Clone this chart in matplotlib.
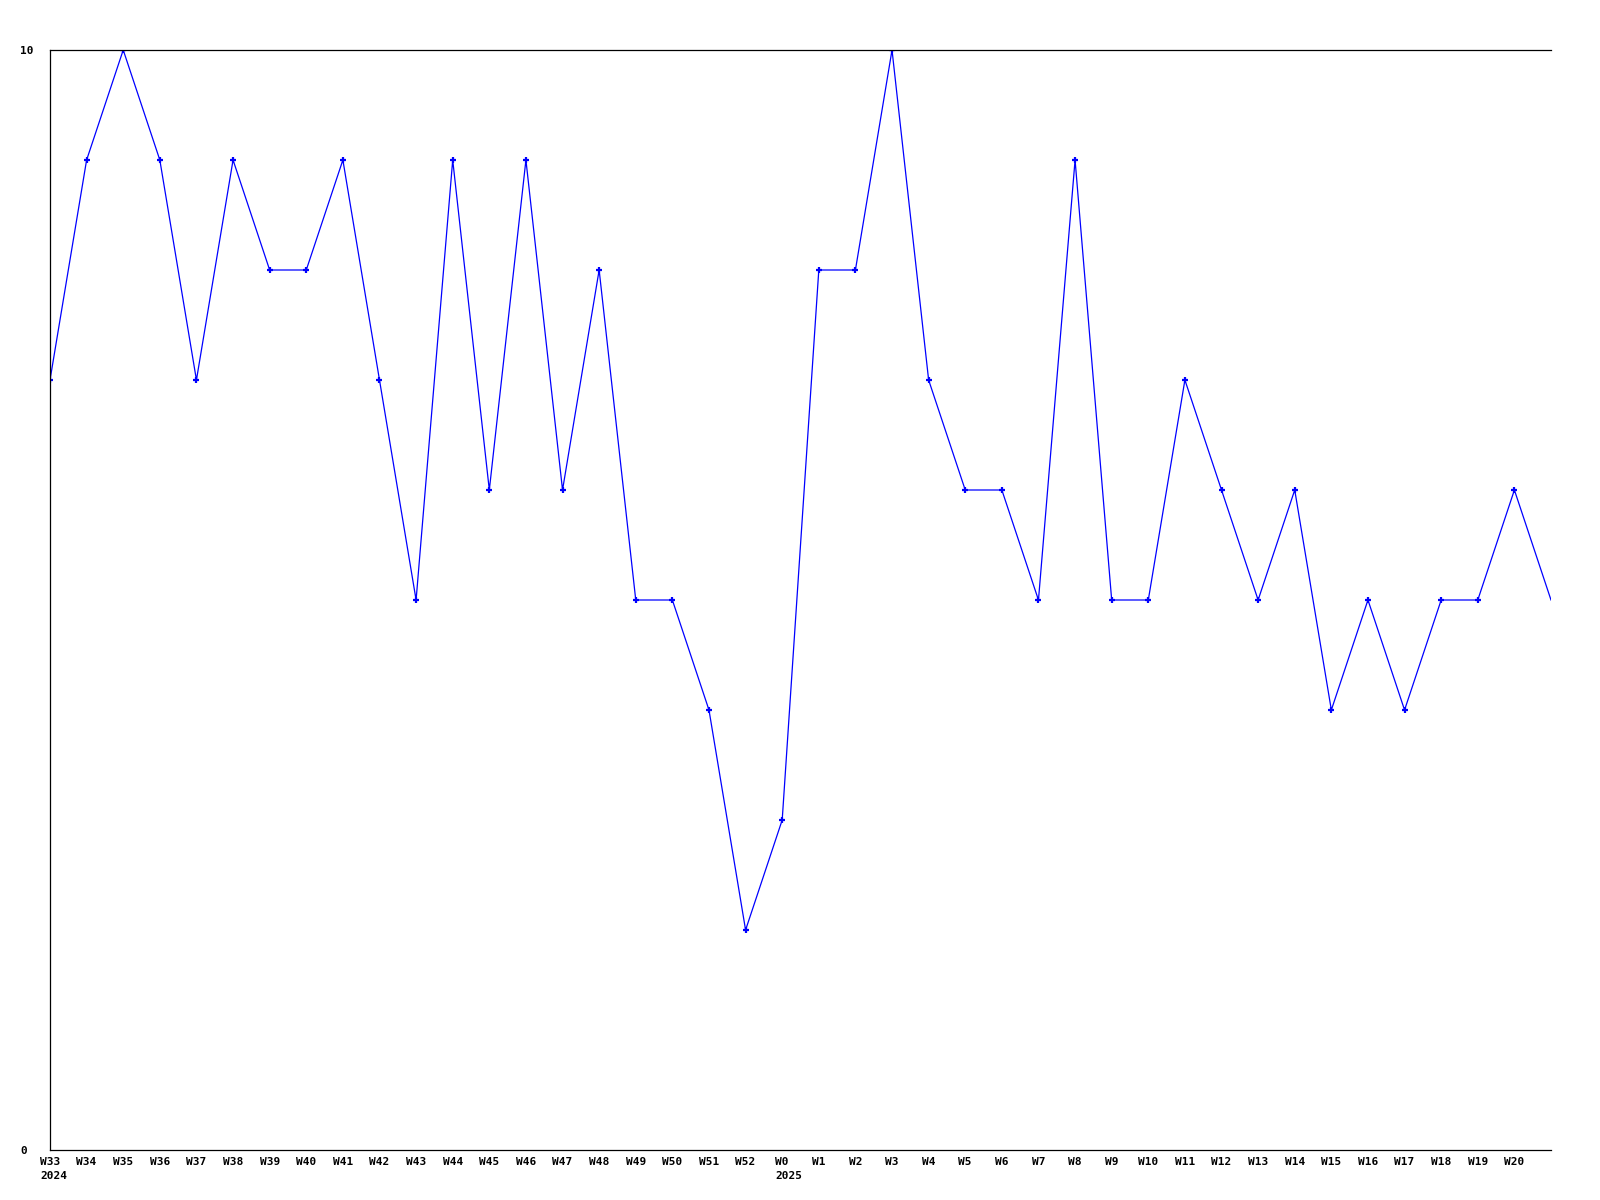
import matplotlib
matplotlib.use("Agg")
import matplotlib.pyplot as plt

# weekly values, W33 2024 .. W21 2025 (last point has no label)
weeks = ["W33", "W34", "W35", "W36", "W37", "W38", "W39", "W40", "W41", "W42",
         "W43", "W44", "W45", "W46", "W47", "W48", "W49", "W50", "W51", "W52",
         "W0", "W1", "W2", "W3", "W4", "W5", "W6", "W7", "W8", "W9",
         "W10", "W11", "W12", "W13", "W14", "W15", "W16", "W17", "W18", "W19",
         "W20", ""]
years = {"W33": "2024", "W0": "2025"}
values = [7, 9, 10, 9, 7, 9, 8, 8, 9, 7,
          5, 9, 6, 9, 6, 8, 5, 5, 4, 2,
          3, 8, 8, 10, 7, 6, 6, 5, 9, 5,
          5, 7, 6, 5, 6, 4, 5, 4, 5, 5,
          6, 5]

fig = plt.figure(figsize=(16, 12), dpi=100)
ax = fig.add_axes([50 / 1600, 1 - 1150 / 1200, 1501 / 1600, 1100 / 1200])

x = list(range(len(values)))
ax.plot(x, values, color="#0000ff", lw=0.9)
ax.plot(x[:-1], values[:-1], ls="none", marker="+", ms=4, mew=1.6, color="#0000ff")

ax.set_xlim(0, len(values) - 1)
ax.set_ylim(0, 10)

ax.set_xticks(x)
ax.set_xticklabels(weeks, family="DejaVu Sans Mono", weight="bold", fontsize=8)
ax.tick_params(axis="x", length=0, pad=5)

# year under the first week of each year, left edge lined up with the week label
for i, w in enumerate(weeks):
    if w in years:
        half = len(w) * 0.6 * 8 / 2
        ax.annotate(years[w], xy=(i, 0), xycoords=("data", "axes fraction"),
                    xytext=(-half, -15), textcoords="offset points",
                    ha="left", va="top", family="DejaVu Sans Mono",
                    weight="bold", fontsize=8, annotation_clip=False)

ax.set_yticks([0, 10])
ax.set_yticklabels(["0", "10"], family="DejaVu Sans Mono", weight="bold", fontsize=8)
ax.tick_params(axis="y", length=0, pad=21.6)
for t in ax.get_yticklabels():
    t.set_horizontalalignment("left")

ax.spines["right"].set_visible(False)
for s in ["left", "top", "bottom"]:
    ax.spines[s].set_linewidth(0.9)

fig.savefig("out.png", dpi=100)
